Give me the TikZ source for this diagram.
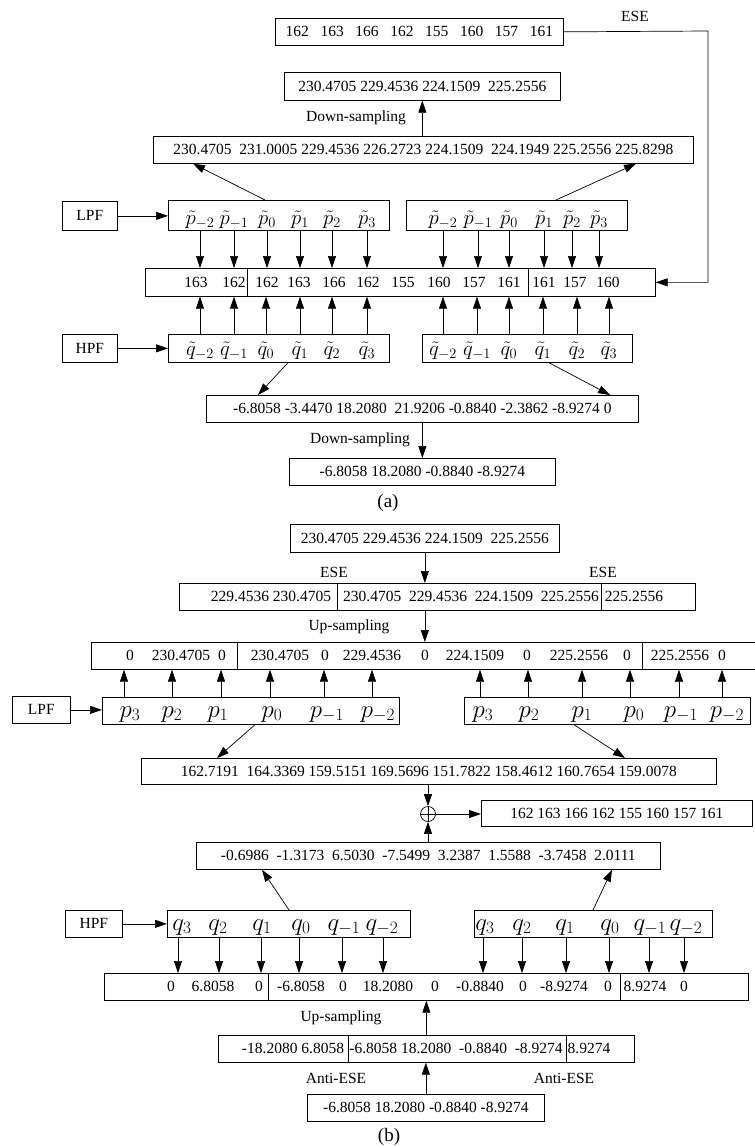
\documentclass[tikz,border=0pt]{standalone}
\usepackage{fontspec}
\setmainfont{Liberation Serif}
\usepackage{amsmath}
\usetikzlibrary{arrows.meta}
\tikzset{
  boxnode/.style = {draw, rectangle, anchor=north west, inner sep=0pt,
    minimum height=27pt},% cadre
  openbox/.style = {rectangle, anchor=north west, inner sep=0pt,
    minimum height=27pt},% cadre ouvert a droite
  valnode/.style = {inner sep=0pt},% valeur dans un cadre
  coefnode/.style = {inner sep=0pt, anchor=base,
    font=\fontsize{21}{22}\selectfont},% coefficient du filtre
  bigcoef/.style = {coefnode, font=\fontsize{23}{24}\selectfont},% coefficient (b)
  txtnode/.style = {inner sep=0pt},% texte libre
  divline/.style = {-, line width=0.4pt},% separation
  sumnode/.style = {circle, draw, minimum size=15pt, inner sep=0pt,
    path picture={\draw[-] (path picture bounding box.north) -- (path picture bounding box.south)
      (path picture bounding box.west) -- (path picture bounding box.east);}}% addition
}

\begin{document}
\begin{tikzpicture}[->,>={Triangle[length=12pt,width=8pt]}, x=1pt, y=-1pt,
  line width=0.7pt, font=\fontsize{15.5}{18}\selectfont]
\useasboundingbox (0,0) rectangle (755,1146);

%% (a) decomposition
\node[boxnode, minimum width=288pt] (inA) at (275,18) {162~~~163~~~166~~~162~~~155~~~160~~~157~~~161};
\node[txtnode] (eseA) at (635,16) {ESE};
\node[boxnode, minimum width=276pt, minimum height=28pt] (dsA) at (284,72) {230.4705 229.4536 224.1509~~225.2556};
\node[txtnode] (dslabA) at (356,118) {Down-sampling};
\node[boxnode, minimum width=540pt] (lpA) at (153,136) {230.4705~~231.0005 229.4536 226.2723 224.1509~~224.1949 225.2556 225.8298};
\node[boxnode, minimum width=55pt, minimum height=29pt] (lpfA) at (62,201) {LPF};
\node[boxnode, minimum width=221pt, minimum height=30pt] (pA1) at (168,200) {};
\node[boxnode, minimum width=221pt, minimum height=30pt] (pA2) at (406,200) {};
\node[boxnode, minimum width=510pt, minimum height=28pt] (midA) at (145,268) {};
\node[boxnode, minimum width=55pt, minimum height=28pt] (hpfA) at (62,334) {HPF};
\node[boxnode, minimum width=221pt, minimum height=28pt] (qA1) at (168,334) {};
\node[boxnode, minimum width=210pt, minimum height=28pt] (qA2) at (422,334) {};
\node[boxnode, minimum width=432pt] (hpA) at (206,395) {-6.8058 -3.4470 18.2080~~21.9206 -0.8840 -2.3862 -8.9274 0};
\node[txtnode] (dslabB) at (360,440) {Down-sampling};
\node[boxnode, minimum width=266pt] (dshA) at (289,458) {-6.8058 18.2080 -0.8840 -8.9274};
\node[txtnode, font=\fontsize{19}{20}\selectfont] (capA) at (388,503) {(a)};

\foreach \x/\v [count=\i] in {196/163,234/162,267/162,299/163,334/166,368/162,403/155,
  439/160,474/157,509/161,544/161,575/157,608/160}
  \node[valnode] (ma\i) at (\x,282) {\v};
\draw[divline] (247,0 |- midA.north) -- (247,0 |- midA.south);
\draw[divline] (528,0 |- midA.north) -- (528,0 |- midA.south);

\foreach \x/\s [count=\i] in {200/-2,234/-1,267/0,300/1,332/2,367/3}{
  \node[coefnode] (pl\i) at (\x,224) {$\tilde{p}_{\s}$};
  \draw (pl\i |- pA1.south) -- (pl\i |- midA.north);
}
\foreach \x/\s [count=\i] in {443/-2,478/-1,509/0,544/1,572/2,599/3}{
  \node[coefnode] (pr\i) at (\x,224) {$\tilde{p}_{\s}$};
  \draw (pr\i |- pA2.south) -- (pr\i |- midA.north);
}
\foreach \x/\s [count=\i] in {200/-2,234/-1,266/0,300/1,332/2,367/3}{
  \node[coefnode] (ql\i) at (\x,355) {$\tilde{q}_{\s}$};
  \draw (ql\i |- qA1.north) -- (ql\i |- midA.south);
}
\foreach \x/\s [count=\i] in {443/-2,477/-1,509/0,543/1,577/2,609/3}{
  \node[coefnode] (qr\i) at (\x,355) {$\tilde{q}_{\s}$};
  \draw (qr\i |- qA2.north) -- (qr\i |- midA.south);
}

\draw (lpfA) -- (pA1.west |- lpfA);
\draw (hpfA) -- (qA1.west |- hpfA);
\draw (265,0 |- pA1.north) -- (193,0 |- lpA.south);
\draw (556,0 |- pA2.north) -- (636,0 |- lpA.south);
\draw (dsA.south |- lpA.north) -- (dsA.south);
\draw (288,0 |- qA1.south) -- (258,0 |- hpA.north);
\draw (549,0 |- qA2.south) -- (610,0 |- hpA.north);
\draw (hpA.south) -- (dshA.north);
\coordinate (eseturn) at (708,31);
\draw (inA.east) -- (eseturn) |- (midA.east);

%% (b) reconstruction
\node[boxnode, minimum width=269pt, minimum height=28pt] (inB) at (290,524) {230.4705 229.4536 224.1509~~225.2556};
\node[txtnode] (eseB1) at (334,572) {ESE};
\node[txtnode] (eseB2) at (603,572) {ESE};
\node[boxnode, minimum width=516pt] (eseB) at (179,583) {};
\node[valnode] (eb1) at (271,596.5) {229.4536 230.4705};
\node[valnode] (eb2) at (471,596.5) {230.4705~~229.4536~~224.1509~~225.2556};
\node[valnode] (eb3) at (634,596.5) {225.2556};
\draw[divline] (337,0 |- eseB.north) -- (337,0 |- eseB.south);
\draw[divline] (601,0 |- eseB.north) -- (601,0 |- eseB.south);
\node[txtnode] (uslabA) at (349,627) {Up-sampling};
\node[openbox, minimum width=664pt] (upB) at (91,642) {};
\draw[-] (upB.north east) -- (upB.north west) -- (upB.south west) -- (upB.south east);
\foreach \x/\v [count=\i] in {130/0,181/230.4705,222/0,280/230.4705,325/0,372/229.4536,425/0,
  475/224.1509,527/0,579/225.2556,627/0,680/225.2556,722/0}
  \node[valnode] (ub\i) at (\x,655.5) {\v};
\draw[divline] (237,0 |- upB.north) -- (237,0 |- upB.south);
\draw[divline] (642,0 |- upB.north) -- (642,0 |- upB.south);

\node[boxnode, minimum width=58pt] (lpfB) at (12,696) {LPF};
\node[boxnode, minimum width=297pt] (pB1) at (102,697) {};
\node[boxnode, minimum width=286pt] (pB2) at (464,697) {};
\foreach \x/\a/\s [count=\i] in {130/124/3,172/172/2,218/221/1,272/270/0,327/324/-1,378/372/-2}{
  \node[bigcoef] (pbl\i) at (\x,717) {$p_{\s}$};
  \draw (\a,0 |- pB1.north) -- (\a,0 |- upB.south);
}
\foreach \x/\a/\s [count=\i] in {483/480/3,529/528/2,582/582/1,634/630/0,681/679/-1,727/722/-2}{
  \node[bigcoef] (pbr\i) at (\x,717) {$p_{\s}$};
  \draw (\a,0 |- pB2.north) -- (\a,0 |- upB.south);
}
\draw (lpfB) -- (pB1.west |- lpfB);

\node[boxnode, minimum width=575pt, minimum height=26pt] (recB) at (141,758) {162.7191~~164.3369 159.5151 169.5696 151.7822 158.4612 160.7654 159.0078};
\draw (255,0 |- pB1.south) -- (217,0 |- recB.north);
\draw (574,0 |- pB2.south) -- (625,0 |- recB.north);
\node[sumnode] (sum) at (428,814) {};
\node[boxnode, minimum width=271pt, minimum height=26pt] (outB) at (481,800) {162 163 166 162 155 160 157 161};
\draw (sum |- recB.south) -- (sum.north);
\draw (sum.east) -- (outB.west |- sum);
\node[boxnode, minimum width=464pt] (hfB) at (196,842) {-0.6986~~-1.3173~~6.5030~~-7.5499~~3.2387~~1.5588~~-3.7458~~2.0111};
\draw (sum |- hfB.north) -- (sum.south);

\node[boxnode, minimum width=57pt] (hpfB) at (65,910) {HPF};
\node[boxnode, minimum width=243pt] (qB1) at (167,910) {};
\node[boxnode, minimum width=238pt] (qB2) at (474,910) {};
\draw (hpfB) -- (qB1.west |- hpfB);
\draw (289,0 |- qB1.north) -- (262,0 |- hfB.south);
\draw (593,0 |- qB2.north) -- (612,0 |- hfB.south);

\node[boxnode, minimum width=644pt] (upq) at (104,973) {};
\foreach \x/\v [count=\i] in {171/0,213/6.8058,259/0,301/-6.8058,343/0,388/18.2080,435/0,
  480/-0.8840,523/0,564/-8.9274,608/0,645/8.9274,684/0}
  \node[valnode] (uq\i) at (\x,986.5) {\v};
\draw[divline] (268,0 |- upq.north) -- (268,0 |- upq.south);
\draw[divline] (620,0 |- upq.north) -- (620,0 |- upq.south);
\foreach \x/\a/\s [count=\i] in {182/178/3,218/219/2,262/261/1,301/299/0,344/342/-1,382/383/-2}{
  \node[bigcoef] (qbl\i) at (\x,930) {$q_{\s}$};
  \draw (\a,0 |- qB1.south) -- (\a,0 |- upq.north);
}
\foreach \x/\a/\s [count=\i] in {485/483/3,522/522/2,565/566/1,610/609/0,650/649/-1,686/684/-2}{
  \node[bigcoef] (qbr\i) at (\x,930) {$q_{\s}$};
  \draw (\a,0 |- qB2.south) -- (\a,0 |- upq.north);
}

\node[txtnode] (uslabB) at (341,1018) {Up-sampling};
\node[boxnode, minimum width=416pt] (aeB) at (218,1035) {};
\node[valnode] (ae1) at (293,1048.5) {-18.2080 6.8058};
\node[valnode] (ae2) at (456,1048.5) {-6.8058 18.2080~~-0.8840~~-8.9274};
\node[valnode] (ae3) at (589,1048.5) {8.9274};
\draw[divline] (348,0 |- aeB.north) -- (348,0 |- aeB.south);
\draw[divline] (566,0 |- aeB.north) -- (566,0 |- aeB.south);
\node[txtnode] (aelab1) at (336,1078) {Anti-ESE};
\node[txtnode] (aelab2) at (564,1078) {Anti-ESE};
\node[boxnode, minimum width=237pt] (coB) at (307,1094) {-6.8058 18.2080 -0.8840 -8.9274};
\node[txtnode, font=\fontsize{19}{20}\selectfont] (capB) at (389,1137) {(b)};

\draw (inB.south) -- (inB.south |- eseB.north);
\draw (inB.south |- eseB.south) -- (inB.south |- upB.north);
\draw (aeB.north) -- (aeB.north |- upq.south);
\draw (coB.north) -- (coB.north |- aeB.south);
\end{tikzpicture}
\end{document}
